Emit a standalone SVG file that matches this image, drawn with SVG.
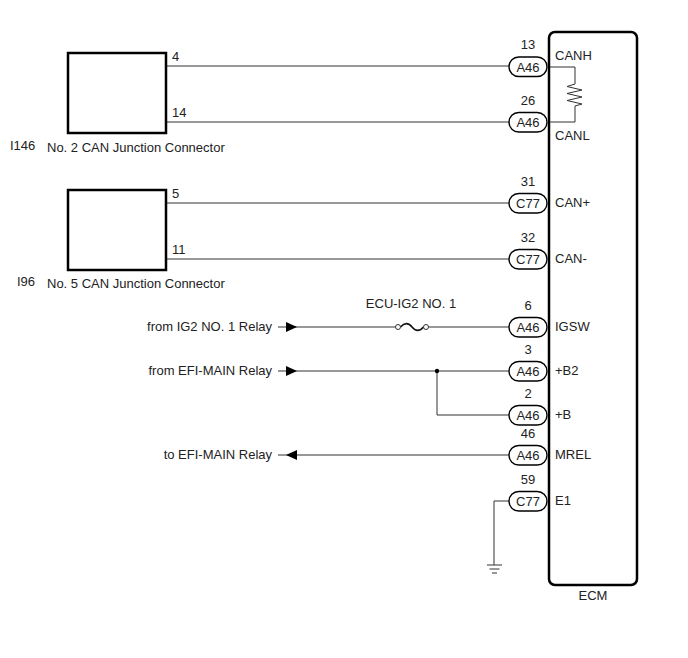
<svg xmlns="http://www.w3.org/2000/svg" width="688" height="658" viewBox="0 0 688 658">
<style>
text{font-family:"Liberation Sans",Arial,sans-serif;font-size:13px;fill:#222}
.w{stroke:#333;stroke-width:1;fill:none}
.box{stroke:#000;stroke-width:2.5;fill:#fff}
.pill{stroke:#000;stroke-width:1.4;fill:#fff}
.c{text-anchor:middle}
.e{text-anchor:end}
</style>
<rect width="688" height="658" fill="#fff"/>
<g id="connectors">
<path class="w" d="M166,66H509"/>
<path class="w" d="M166,122H509"/>
<path class="w" d="M166,203H509"/>
<path class="w" d="M166,259H509"/>
<path class="w" d="M278,327H396 M428.5,327H509"/>
<path d="M400.5,327c4,-4.5 8,-4.5 11.5,0s8,4.5 11.5,0" fill="none" stroke="#111" stroke-width="1.6"/>
<circle cx="398" cy="327" r="2.5" fill="#fff" stroke="#333" stroke-width="1"/>
<circle cx="426" cy="327" r="2.5" fill="#fff" stroke="#333" stroke-width="1"/>
<path class="w" d="M278,371H509"/>
<path class="w" d="M437,371V415H509"/>
<circle cx="437" cy="371" r="2.2" fill="#000"/>
<path class="w" d="M278,455H509"/>
<path class="w" d="M509,501H494V565"/>
<path class="w" d="M487,565H502 M489.5,569H499.5 M492,573H497"/>
<polygon points="286,322 297,327 286,332" fill="#000"/>
<polygon points="286,366 297,371 286,376" fill="#000"/>
<polygon points="286,455 297,450 297,460" fill="#000"/>
</g>
<g id="jc2">
<rect class="box" x="68" y="53" width="98" height="80"/>
<text x="172" y="61">4</text>
<text x="172" y="117">14</text>
<text x="10" y="150">I146</text>
<text x="47" y="152">No. 2 CAN Junction Connector</text>
</g>
<g id="jc5">
<rect class="box" x="68" y="190" width="98" height="80"/>
<text x="172" y="198">5</text>
<text x="172" y="254">11</text>
<text x="17" y="286">I96</text>
<text x="47" y="288">No. 5 CAN Junction Connector</text>
</g>
<g id="ecm">
<rect x="549" y="32" width="88" height="553" rx="6" fill="#fff" stroke="#000" stroke-width="2.5"/>
<path class="w" d="M550,67H575V84L567,86.5L582,90L567,93.5L582,97L567,100.5L582,104L575,106V122H550"/>
<text x="555" y="60">CANH</text>
<text x="555" y="140">CANL</text>
<text x="555" y="207">CAN+</text>
<text x="555" y="263">CAN-</text>
<text x="555" y="331">IGSW</text>
<text x="555" y="375">+B2</text>
<text x="555" y="419">+B</text>
<text x="555" y="459">MREL</text>
<text x="555" y="505">E1</text>
<text class="c" x="593" y="600">ECM</text>
</g>
<g id="pins">
<rect class="pill" x="509" y="57" width="38" height="19.5" rx="9.75"/><text class="c" x="528" y="71.5">A46</text><text class="c" x="528" y="49">13</text>
<rect class="pill" x="509" y="112.5" width="38" height="19.5" rx="9.75"/><text class="c" x="528" y="127">A46</text><text class="c" x="528" y="105">26</text>
<rect class="pill" x="509" y="193.5" width="38" height="19.5" rx="9.75"/><text class="c" x="528" y="208">C77</text><text class="c" x="528" y="186">31</text>
<rect class="pill" x="509" y="249.5" width="38" height="19.5" rx="9.75"/><text class="c" x="528" y="264">C77</text><text class="c" x="528" y="242">32</text>
<rect class="pill" x="509" y="317.5" width="38" height="19.5" rx="9.75"/><text class="c" x="528" y="332">A46</text><text class="c" x="528" y="310">6</text>
<rect class="pill" x="509" y="361.5" width="38" height="19.5" rx="9.75"/><text class="c" x="528" y="376">A46</text><text class="c" x="528" y="354">3</text>
<rect class="pill" x="509" y="405.5" width="38" height="19.5" rx="9.75"/><text class="c" x="528" y="420">A46</text><text class="c" x="528" y="398">2</text>
<rect class="pill" x="509" y="445.5" width="38" height="19.5" rx="9.75"/><text class="c" x="528" y="460">A46</text><text class="c" x="528" y="438">46</text>
<rect class="pill" x="509" y="491.5" width="38" height="19.5" rx="9.75"/><text class="c" x="528" y="506">C77</text><text class="c" x="528" y="484">59</text>
</g>
<g id="labels">
<text class="c" x="411" y="308">ECU-IG2 NO. 1</text>
<text class="e" x="272" y="331">from IG2 NO. 1 Relay</text>
<text class="e" x="272" y="375">from EFI-MAIN Relay</text>
<text class="e" x="272" y="459">to EFI-MAIN Relay</text>
</g>
</svg>
